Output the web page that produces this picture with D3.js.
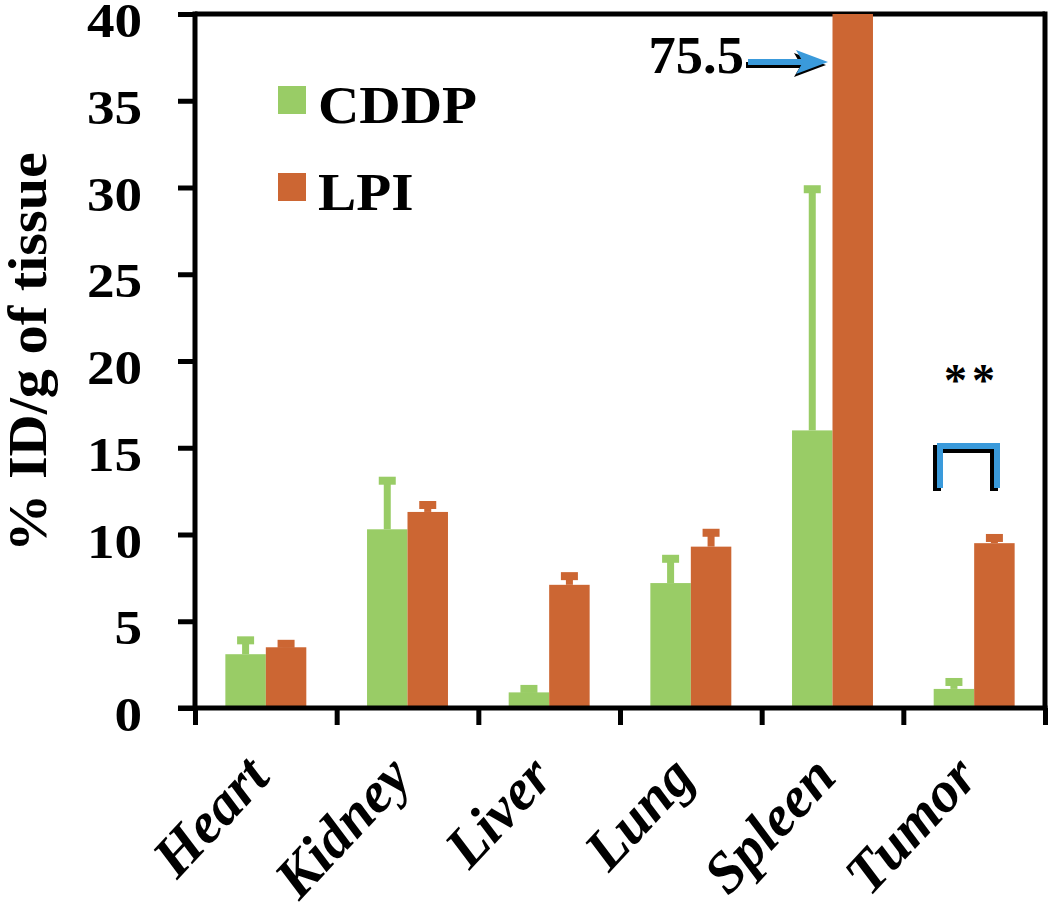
<!DOCTYPE html>
<html><head><meta charset="utf-8">
<script src="https://cdn.jsdelivr.net/npm/d3@7"></script>
<style>body{margin:0;background:#fff}</style>
</head><body>
<svg id="chart" width="1050" height="912"></svg>
<script>
const categories = ["Heart","Kidney","Liver","Lung","Spleen","Tumor"];
const seriesNames = ["CDDP","LPI"];
const cddpValues = [3.1, 10.3, 0.9, 7.2, 16.0, 1.1];
const cddpErrors = [0.8, 2.8, 0.2, 1.4, 13.9, 0.4];
const lpiValues = [3.5, 11.3, 7.1, 9.3, 75.5, 9.5];
const lpiErrors = [0.2, 0.4, 0.5, 0.8, 0, 0.3];
const yTicks = [0,5,10,15,20,25,30,35,40];
const yTitle = "% ID/g of tissue";
const annotationText = "75.5";
const significanceText = "**";

const colors = {CDDP:"#99CC66", LPI:"#CC6633"};
const blue = "#3A9ADB";
const FONT = "'Liberation Serif','Times New Roman',serif";

const svg = d3.select("#chart");
const L = 195, T = 14, R = 1045, B = 708;

const y = d3.scaleLinear().domain([0,40]).range([B,T]).clamp(true);
const x0 = d3.scaleBand().domain(categories).range([L,R]);
const x1 = d3.scaleBand().domain(seriesNames).range([0,x0.bandwidth()]).paddingOuter(0.75);
const xEdge = d3.scaleLinear().domain([0,categories.length]).range([L,R]);

const data = [];
categories.forEach((c,i)=>{
  data.push({cat:c, s:"CDDP", v:cddpValues[i], e:cddpErrors[i]});
  data.push({cat:c, s:"LPI", v:lpiValues[i], e:lpiErrors[i]});
});

// frame top and right
svg.append("line").attr("x1",L).attr("x2",R).attr("y1",T).attr("y2",T)
  .attr("stroke","#000").attr("stroke-width",5);
svg.append("line").attr("x1",R).attr("x2",R).attr("y1",T-2.5).attr("y2",B)
  .attr("stroke","#000").attr("stroke-width",5);

// bars
svg.append("g").selectAll("rect").data(data).join("rect")
  .attr("x",d=>x0(d.cat)+x1(d.s))
  .attr("width",x1.bandwidth())
  .attr("y",d=>y(d.v))
  .attr("height",d=>B-y(d.v))
  .attr("fill",d=>colors[d.s]);

// error bars
const eg = svg.append("g");
data.filter(d=>d.v<=40 && d.e>0).forEach(d=>{
  const cx = x0(d.cat)+x1(d.s)+x1.bandwidth()/2;
  const yt = y(d.v+d.e), yb = y(d.v);
  eg.append("rect").attr("x",cx-3.5).attr("width",7).attr("y",yt).attr("height",Math.max(0,yb-yt)).attr("fill",colors[d.s]);
  eg.append("rect").attr("x",cx-8.5).attr("width",17).attr("y",yt-4).attr("height",8).attr("fill",colors[d.s]);
});

// y axis
const ya = svg.append("g").attr("transform",`translate(${L},0)`)
  .call(d3.axisLeft(y).tickValues(yTicks).tickSize(17).tickSizeOuter(0));
ya.select(".domain").attr("stroke","#000").attr("stroke-width",5).attr("d",`M0,${T-2.5}V${B+2.5}`);
ya.selectAll(".tick line").attr("stroke","#000").attr("stroke-width",5);
ya.selectAll(".tick text")
  .attr("x",-46).attr("dy","0.47em")
  .attr("transform","scale(1.15,1)")
  .attr("font-family",FONT).attr("font-weight","bold").attr("font-size",48).attr("fill","#000");

// x axis (ticks at category boundaries)
const xa = svg.append("g").attr("transform",`translate(0,${B})`)
  .call(d3.axisBottom(xEdge).tickValues(d3.range(categories.length+1)).tickFormat("").tickSize(17).tickSizeOuter(0));
xa.select(".domain").attr("stroke","#000").attr("stroke-width",5).attr("d",`M${L-17},0H${R+2.5}`);
xa.selectAll(".tick line").attr("stroke","#000").attr("stroke-width",5);

// category labels
svg.append("g").selectAll("text").data(categories).join("text")
  .attr("transform",d=>`translate(${x0(d)+x0.bandwidth()/2+6},779) rotate(-47)`)
  .attr("text-anchor","end")
  .attr("font-family",FONT).attr("font-weight","bold").attr("font-style","italic")
  .attr("font-size",58).attr("fill","#000")
  .text(d=>d);

// y title
svg.append("text")
  .attr("transform","translate(46,352) rotate(-90) scale(1.06,1)")
  .attr("text-anchor","middle")
  .attr("font-family",FONT).attr("font-weight","bold").attr("font-size",55).attr("fill","#000")
  .text(yTitle);

// legend
const lg = svg.append("g");
seriesNames.forEach((s,i)=>{
  const yy = 86 + i*87;
  lg.append("rect").attr("x",278).attr("y",yy).attr("width",28).attr("height",28).attr("fill",colors[s]);
  lg.append("text").attr("transform",`translate(318,${yy+37}) scale(1.08,1)`)
    .attr("font-family",FONT).attr("font-weight","bold").attr("font-size",53).attr("fill","#000")
    .text(s);
});

// annotation 75.5 with arrow
svg.append("text").attr("transform","translate(744,73) scale(1.05,1)").attr("text-anchor","end")
  .attr("font-family",FONT).attr("font-weight","bold").attr("font-size",52).attr("fill","#000")
  .text(annotationText);
function arrow(g, dx, dy, col){
  g.append("line").attr("x1",748+dx).attr("x2",808+dx).attr("y1",62+dy).attr("y2",62+dy)
    .attr("stroke",col).attr("stroke-width",6);
  g.append("path").attr("d",`M${796+dx},${50+dy}L${828+dx},${62+dy}L${796+dx},${74+dy}L${803+dx},${62+dy}Z`)
    .attr("fill",col);
}
const ag = svg.append("g");
arrow(ag,-2,3,"#000");
arrow(ag,0,0,blue);

// significance bracket
const bg = svg.append("g");
bg.append("path").attr("d","M937,491V449H994V491").attr("fill","none").attr("stroke","#000").attr("stroke-width",8);
bg.append("path").attr("d","M940,488V446H997V488").attr("fill","none").attr("stroke",blue).attr("stroke-width",6);
svg.append("text").attr("x",972).attr("y",396).attr("text-anchor","middle")
  .attr("font-family",FONT).attr("font-weight","bold").attr("font-size",46).attr("letter-spacing",5).attr("fill","#000")
  .text(significanceText);
</script>
</body></html>
